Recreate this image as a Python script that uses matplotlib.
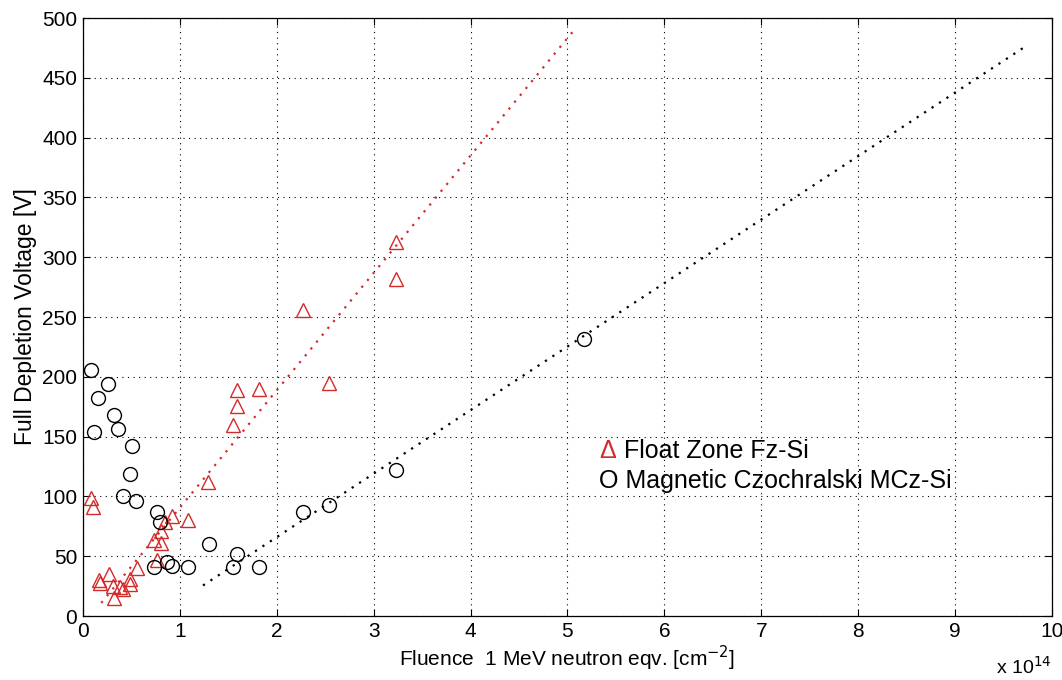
import matplotlib
matplotlib.use("Agg")
import matplotlib.pyplot as plt
from matplotlib import font_manager

# fluence in units of 1e14 cm^-2, voltage in V
fz_fluence = [0.08, 0.11, 0.17, 0.18, 0.27, 0.31, 0.32, 0.38, 0.41, 0.49, 0.49,
              0.56, 0.73, 0.77, 0.81, 0.81, 0.85, 0.92, 1.09, 1.29, 1.55, 1.59,
              1.59, 1.82, 2.27, 2.54, 3.23, 3.23]
fz_voltage = [99, 91, 30, 28, 35, 25, 15, 24.5, 23, 31, 27,
              40, 64, 47, 71, 61, 79, 84, 80, 112, 160, 176,
              189, 190, 256, 195, 313, 282]

mcz_fluence = [0.08, 0.12, 0.16, 0.26, 0.32, 0.36, 0.41, 0.49, 0.51, 0.55,
               0.73, 0.77, 0.80, 0.87, 0.92, 1.09, 1.30, 1.55, 1.59, 1.82,
               2.27, 2.54, 3.23, 5.17]
mcz_voltage = [206, 154, 182, 194, 168, 156, 100, 119, 142, 96,
               41, 87, 79, 45, 42, 41, 60, 41, 52, 41,
               87, 93, 122, 232]

# linear fits, endpoints
fz_fit_x = [0.19, 5.08]
fz_fit_y = [11, 491]
mcz_fit_x = [1.24, 9.74]
mcz_fit_y = [25.6, 477]

x_ticks = list(range(0, 11))
y_ticks = list(range(0, 501, 50))

names = {f.name for f in font_manager.fontManager.ttflist}
font = "Liberation Sans" if "Liberation Sans" in names else "DejaVu Sans"
plt.rcParams["font.family"] = font

fig = plt.figure(figsize=(10.62, 6.80), dpi=100)
ax = fig.add_axes([0.078, 0.094, 0.9126, 0.8795])

red = "#d42a2a"
ax.plot(fz_fit_x, fz_fit_y, linestyle=(0, (1, 3)), color=red, lw=1.6)
ax.plot(mcz_fit_x, mcz_fit_y, linestyle=(0, (1, 3)), color="black", lw=1.6)
ax.plot(fz_fluence, fz_voltage, linestyle="none", marker="^", ms=10.5,
        mfc="none", mec=red, mew=1.0)
ax.plot(mcz_fluence, mcz_voltage, linestyle="none", marker="o", ms=10,
        mfc="none", mec="black", mew=1.0)

ax.set_xlim(0, 10)
ax.set_ylim(0, 500)
ax.set_xticks(x_ticks)
ax.set_yticks(y_ticks)
ax.grid(True, linestyle=(0, (1, 4)), color="black", lw=0.8)
ax.tick_params(direction="in", top=True, right=True, length=5, width=0.8,
               labelsize=15, pad=4)
for sp in ax.spines.values():
    sp.set_linewidth(0.9)

ax.set_ylabel("Full Depletion Voltage [V]", fontsize=16.5, labelpad=4)
ax.set_xlabel("Fluence  1 MeV neutron eqv. [cm$^{-2}$]", fontsize=15,
              labelpad=2)
ax.text(1.0, -0.066, "x 10$^{14}$", transform=ax.transAxes, ha="right",
        va="top", fontsize=14)

# legend drawn as text, as in the original figure
ax.text(5.33, 138, "\u0394", color=red, fontsize=18, va="center")
ax.text(5.58, 138, "Float Zone Fz-Si", color="black", fontsize=18, va="center")
ax.text(5.33, 113, "O Magnetic Czochralski MCz-Si", color="black",
        fontsize=18, va="center")

fig.savefig("out.png", dpi=100)
